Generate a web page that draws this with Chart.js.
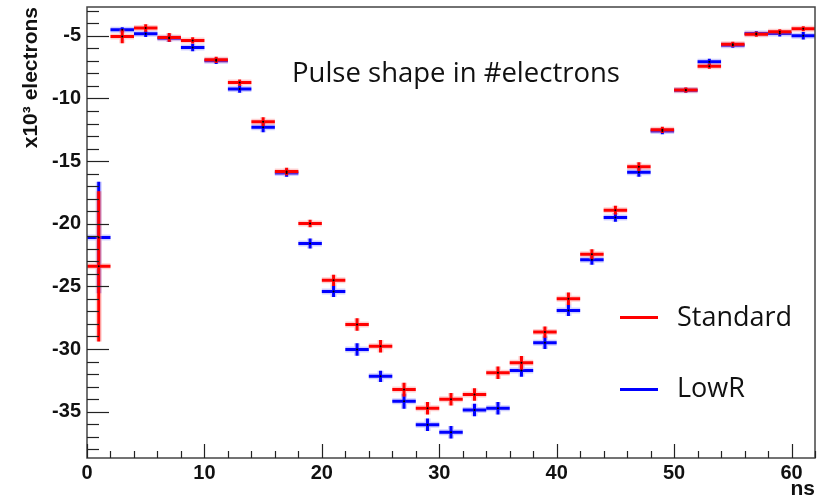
<!DOCTYPE html>
<html>
<head>
<meta charset="utf-8">
<script src="https://cdn.jsdelivr.net/npm/chart.js@4.4.1/dist/chart.umd.min.js"></script>
<style>
  html, body { margin: 0; padding: 0; background: #fff; }
  #wrap { position: relative; width: 822px; height: 502px; overflow: hidden; }
  #pulse-chart { position: absolute; left: 0; top: 0; }
  .txt { position: absolute; font-family: "Open Sans", sans-serif; color: #111; white-space: nowrap; line-height: 1; }
  .leg-line { position: absolute; height: 3px; width: 38px; }
</style>
</head>
<body>
<div id="wrap">
  <canvas id="pulse-chart" width="822" height="502"></canvas>
  <div class="txt" style="left:292px; top:58px; font-size:27.5px;">Pulse shape in #electrons</div>
  <div class="leg-line" style="left:620px; top:316px; background:#ff0000;"></div>
  <div class="txt" style="left:677px; top:302px; font-size:27px;">Standard</div>
  <div class="leg-line" style="left:620px; top:388px; background:#0000ff;"></div>
  <div class="txt" style="left:677px; top:373px; font-size:27px;">LowR</div>
</div>
<script>
// bin centres (ns), bin half width 1 ns
const binCenters = [1, 3, 5, 7, 9, 11, 13, 15, 17, 19, 21, 23, 25, 27, 29, 31,
                    33, 35, 37, 39, 41, 43, 45, 47, 49, 51, 53, 55, 57, 59, 61];
const binHalfWidth = 1;

// x10^3 electrons
const standardValues = [-23.4, -5.05, -4.38, -5.13, -5.37, -6.92, -8.73, -11.85, -15.83, -19.98,
                        -24.52, -28.04, -29.78, -33.24, -34.73, -34.01, -33.64, -31.9, -31.1, -28.65,
                        -25.99, -22.44, -18.92, -15.45, -12.5, -9.32, -7.43, -5.67, -4.87, -4.68, -4.44];
const standardErrors = [6.0, 0.55, 0.3, 0.35, 0.25, 0.25, 0.25, 0.35, 0.3, 0.3,
                        0.45, 0.5, 0.5, 0.55, 0.5, 0.5, 0.5, 0.5, 0.55, 0.45,
                        0.5, 0.4, 0.35, 0.35, 0.25, 0.2, 0.2, 0.2, 0.2, 0.2, 0.2];

const lowRValues = [-21.1, -4.52, -4.84, -5.2, -5.93, -7.0, -9.24, -12.3, -15.95, -21.58,
                    -25.4, -30.04, -32.18, -34.17, -36.04, -36.65, -34.87, -34.73, -31.72, -29.5,
                    -26.92, -22.87, -19.5, -15.9, -12.6, -9.35, -7.08, -5.75, -4.81, -4.81, -5.0];
const lowRErrors = [4.45, 0.2, 0.25, 0.3, 0.3, 0.25, 0.3, 0.4, 0.3, 0.4,
                    0.45, 0.5, 0.45, 0.6, 0.5, 0.5, 0.5, 0.5, 0.5, 0.5,
                    0.45, 0.4, 0.35, 0.35, 0.25, 0.2, 0.25, 0.2, 0.2, 0.25, 0.3];

const xTickValues = [0, 10, 20, 30, 40, 50, 60];
const yTickValues = [-35, -30, -25, -20, -15, -10, -5];

function buildPoints(values, errors) {
    return binCenters.map((c, i) => ({ x: c, y: values[i], xErr: binHalfWidth, yErr: errors[i] }));
}

const axisFont = { family: '"Liberation Sans", Arial, sans-serif', size: 20, weight: 'bold' };

// Error bars (ROOT style crosses)
const errorBarPlugin = {
    id: 'errorBars',
    beforeDatasetsDraw(chart) {
        const { ctx, scales: { x, y }, chartArea } = chart;
        ctx.save();
        ctx.beginPath();
        ctx.rect(chartArea.left, chartArea.top, chartArea.right - chartArea.left, chartArea.bottom - chartArea.top);
        ctx.clip();
        chart.data.datasets.forEach(ds => {
            const passes = [
                { w: 6, color: ds.haloColor },
                { w: 3, color: ds.barColor }
            ];
            passes.forEach(pass => {
                ctx.strokeStyle = pass.color;
                ctx.lineWidth = pass.w;
                ds.data.forEach(p => {
                    const px = x.getPixelForValue(p.x);
                    const py = y.getPixelForValue(p.y);
                    ctx.beginPath();
                    ctx.moveTo(x.getPixelForValue(p.x - p.xErr), py);
                    ctx.lineTo(x.getPixelForValue(p.x + p.xErr), py);
                    ctx.moveTo(px, y.getPixelForValue(p.y + p.yErr));
                    ctx.lineTo(px, y.getPixelForValue(p.y - p.yErr));
                    ctx.stroke();
                });
            });
        });
        ctx.restore();
    }
};

// Frame and inward tick marks
const frameTicksPlugin = {
    id: 'frameTicks',
    afterDraw(chart) {
        const { ctx, scales: { x, y }, chartArea: a } = chart;
        ctx.save();
        ctx.strokeStyle = '#444';
        ctx.lineWidth = 1.5;
        ctx.strokeRect(a.left, a.top, a.right - a.left, a.bottom - a.top);

        ctx.strokeStyle = '#222';
        ctx.lineWidth = 1.2;
        // y ticks
        for (let v = Math.ceil(y.min); v <= y.max; v += 1) {
            const py = Math.round(y.getPixelForValue(v)) + 0.5;
            const len = (v % 5 === 0) ? 22 : 12;
            ctx.beginPath();
            ctx.moveTo(a.left, py);
            ctx.lineTo(a.left + len, py);
            ctx.stroke();
        }
        // x ticks
        for (let v = 0; v <= x.max; v += 2) {
            const px = Math.round(x.getPixelForValue(v)) + 0.5;
            const len = (v % 10 === 0) ? 14 : 7;
            ctx.beginPath();
            ctx.moveTo(px, a.bottom);
            ctx.lineTo(px, a.bottom - len);
            ctx.stroke();
        }
        ctx.restore();
    }
};

new Chart(document.getElementById('pulse-chart').getContext('2d'), {
    type: 'scatter',
    data: {
        datasets: [
            {
                label: 'LowR',
                data: buildPoints(lowRValues, lowRErrors),
                barColor: '#0000ff',
                haloColor: 'rgba(120,120,255,0.35)',
                pointRadius: 1,
                pointBackgroundColor: '#000',
                pointBorderWidth: 0
            },
            {
                label: 'Standard',
                data: buildPoints(standardValues, standardErrors),
                barColor: '#ff0000',
                haloColor: 'rgba(255,120,120,0.35)',
                pointRadius: 1,
                pointBackgroundColor: '#000',
                pointBorderWidth: 0
            }
        ]
    },
    options: {
        responsive: false,
        animation: false,
        layout: { padding: { left: 0, right: 7, top: 7, bottom: 0 } },
        plugins: {
            legend: { display: false },
            tooltip: { enabled: false }
        },
        scales: {
            x: {
                type: 'linear',
                min: 0,
                max: 62,
                afterBuildTicks: s => { s.ticks = xTickValues.map(v => ({ value: v })); },
                afterFit: s => { s.height = 44; s.paddingLeft = 0; s.paddingRight = 0; },
                grid: { display: false, drawTicks: false },
                border: { display: false },
                ticks: { padding: 3, color: '#111', font: axisFont, maxRotation: 0, autoSkip: false },
                title: {
                    display: true, text: 'ns', align: 'end', color: '#111',
                    font: { family: '"Liberation Sans", Arial, sans-serif', size: 21, weight: 'bold' },
                    padding: { top: 0, bottom: 0 }
                }
            },
            y: {
                type: 'linear',
                min: -38.7,
                max: -2.7,
                afterBuildTicks: s => { s.ticks = yTickValues.map(v => ({ value: v })); },
                afterFit: s => { s.width = 87; s.paddingTop = 0; s.paddingBottom = 0; },
                grid: { display: false, drawTicks: false },
                border: { display: false },
                ticks: { padding: 6, color: '#111', font: axisFont, autoSkip: false },
                title: {
                    display: true, text: 'x10³ electrons', align: 'end', color: '#111',
                    font: { family: '"Liberation Sans", Arial, sans-serif', size: 21, weight: 'bold' },
                    padding: { top: 19, bottom: 0 }
                }
            }
        }
    },
    plugins: [errorBarPlugin, frameTicksPlugin]
});
</script>
</body>
</html>
